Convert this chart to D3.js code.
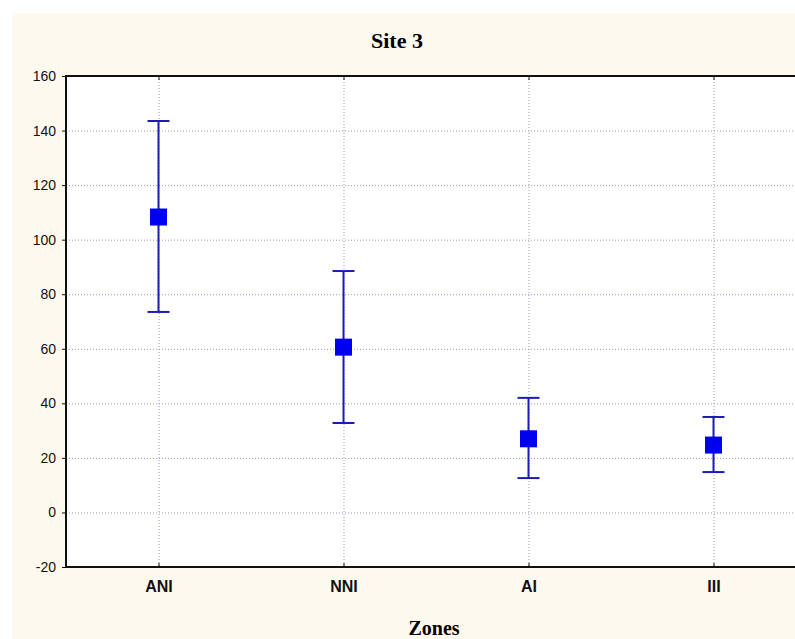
<!DOCTYPE html>
<html>
<head>
<meta charset="utf-8">
<script src="https://cdn.jsdelivr.net/npm/d3@7"></script>
<style>
	body { margin: 0; background: #ffffff; overflow: hidden; }
</style>
</head>
<body>
<script>
(function() {

	// data
	var zones = ['ANI', 'NNI', 'AI', 'III'];
	var means = [108.3, 60.6, 27.0, 24.7];
	var upper = [143.5, 88.5, 42.0, 35.0];
	var lower = [73.5, 32.8, 12.6, 14.8];
	var yTicks = [-20, 0, 20, 40, 60, 80, 100, 120, 140, 160];

	var width = 795;
	var height = 639;
	var left = 66, top = 76, bottom = 567, right = 806;

	var svg = d3.select('body')
		.append('svg')
			.attr('width', width)
			.attr('height', height);

	svg.append('rect')
		.attr('x', 12)
		.attr('y', 13)
		.attr('width', width - 12)
		.attr('height', height - 13)
		.style('fill', '#fdf9ef');

	var x = d3.scalePoint()
		.domain(zones)
		.range([left, right])
		.padding(0.5);

	var y = d3.scaleLinear()
		.domain([-20, 160])
		.range([bottom, top]);

	svg.append('rect')
		.attr('x', left)
		.attr('y', top)
		.attr('width', right - left)
		.attr('height', bottom - top)
		.style('fill', '#ffffff');

	// grid
	svg.selectAll('line.hgrid')
		.data(yTicks.slice(1, -1))
		.enter()
		.append('line')
			.attr('class', 'hgrid')
			.attr('x1', left)
			.attr('x2', right)
			.attr('y1', function(d) { return y(d) + 0.5; })
			.attr('y2', function(d) { return y(d) + 0.5; })
			.style('stroke', '#9a9ab4')
			.style('stroke-width', 1)
			.style('stroke-dasharray', '1,2');

	svg.selectAll('line.vgrid')
		.data(zones)
		.enter()
		.append('line')
			.attr('class', 'vgrid')
			.attr('x1', function(d) { return x(d) + 0.5; })
			.attr('x2', function(d) { return x(d) + 0.5; })
			.attr('y1', top)
			.attr('y2', bottom)
			.style('stroke', '#9a9ab4')
			.style('stroke-width', 1)
			.style('stroke-dasharray', '1,2');

	// axes
	var yAxis = svg.append('g')
		.attr('transform', 'translate(' + left + ',0)')
		.call(d3.axisLeft(y)
			.tickValues(yTicks)
			.tickFormat(function(d) { return String(d); })
			.tickSize(4)
			.tickPadding(6));

	yAxis.select('.domain').remove();
	yAxis.selectAll('text')
		.style('font-family', 'Liberation Sans, Arial, sans-serif')
		.style('font-size', '14px')
		.style('fill', '#111');
	yAxis.selectAll('line').style('stroke', '#111');

	var xAxis = svg.append('g')
		.attr('transform', 'translate(0,' + bottom + ')')
		.call(d3.axisBottom(x).tickSize(-4).tickPadding(14));

	xAxis.select('.domain').remove();
	xAxis.selectAll('text')
		.style('font-family', 'Liberation Sans Narrow, Liberation Sans, Arial, sans-serif')
		.style('font-size', '16px')
		.style('font-weight', 'bold')
		.style('fill', '#111');
	xAxis.selectAll('line').style('stroke', '#111');

	var xTop = svg.append('g')
		.attr('transform', 'translate(0,' + top + ')')
		.call(d3.axisTop(x).tickSize(-4).tickFormat(''));
	xTop.select('.domain').remove();
	xTop.selectAll('line').style('stroke', '#111');

	// frame
	svg.append('rect')
		.attr('x', left)
		.attr('y', top)
		.attr('width', right - left)
		.attr('height', bottom - top)
		.style('fill', 'none')
		.style('stroke', '#111')
		.style('stroke-width', 2);

	// error bars
	var bars = svg.selectAll('g.bar')
		.data(zones)
		.enter()
		.append('g')
			.attr('class', 'bar');

	bars.append('line')
		.attr('x1', function(d) { return x(d); })
		.attr('x2', function(d) { return x(d); })
		.attr('y1', function(d, i) { return y(upper[i]); })
		.attr('y2', function(d, i) { return y(lower[i]); });

	bars.append('line')
		.attr('x1', function(d) { return x(d) - 11; })
		.attr('x2', function(d) { return x(d) + 11; })
		.attr('y1', function(d, i) { return y(upper[i]); })
		.attr('y2', function(d, i) { return y(upper[i]); });

	bars.append('line')
		.attr('x1', function(d) { return x(d) - 11; })
		.attr('x2', function(d) { return x(d) + 11; })
		.attr('y1', function(d, i) { return y(lower[i]); })
		.attr('y2', function(d, i) { return y(lower[i]); });

	bars.selectAll('line')
		.style('stroke', '#1c1cb4')
		.style('stroke-width', 2);

	bars.append('rect')
		.attr('x', function(d) { return x(d) - 8.5; })
		.attr('y', function(d, i) { return y(means[i]) - 8.5; })
		.attr('width', 17)
		.attr('height', 17)
		.style('fill', '#0000f0');

	// titles
	svg.append('text')
		.attr('x', 397)
		.attr('y', 48)
		.attr('text-anchor', 'middle')
		.style('font-family', 'Liberation Serif, Times New Roman, serif')
		.style('font-weight', 'bold')
		.style('font-size', '22px')
		.text('Site 3');

	svg.append('text')
		.attr('x', 434)
		.attr('y', 635)
		.attr('text-anchor', 'middle')
		.style('font-family', 'Liberation Serif, Times New Roman, serif')
		.style('font-weight', 'bold')
		.style('font-size', '20px')
		.text('Zones');

})();
</script>
</body>
</html>
